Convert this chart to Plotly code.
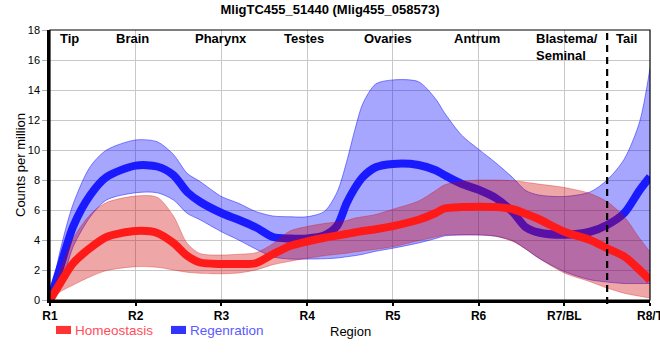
import plotly.graph_objects as go

# ---------------- data ----------------
regions = ["R1", "R2", "R3", "R4", "R5", "R6", "R7/BL", "R8/T"]
region_labels = ["Tip", "Brain", "Pharynx", "Testes", "Ovaries", "Antrum", "Blastema/<br>Seminal", "Tail"]

# positions along the body axis (in region units, R1 = 0 ... R8/T = 7)
pos = [0, 0.12, 0.27, 0.47, 0.66, 1.0, 1.25, 1.44, 1.6, 1.75, 2.0, 2.2, 2.4, 2.6, 2.8, 3.0,
       3.2, 3.35, 3.46, 3.55, 3.65, 3.8, 4.0, 4.3, 4.5, 4.6, 4.8, 5.0, 5.2, 5.4, 5.55, 5.7,
       6.0, 6.3, 6.5, 6.7, 6.88, 7.0]

homeo_mean = [0, 1.13, 2.45, 3.47, 4.2, 4.6, 4.47, 3.8, 2.95, 2.5, 2.4, 2.4, 2.45, 3.05, 3.6, 3.9,
              4.15, 4.3, 4.4, 4.5, 4.6, 4.72, 4.93, 5.35, 5.8, 6.1, 6.2, 6.22, 6.2, 6.05, 5.75, 5.4,
              4.55, 4.0, 3.45, 2.9, 2.0, 1.33]
homeo_upper = [0, 2.0, 4.1, 5.7, 6.5, 6.93, 6.85, 5.6, 3.78, 3.1, 3.0, 3.05, 3.15, 3.75, 4.6, 4.9,
               5.1, 5.2, 5.3, 5.45, 5.55, 5.7, 6.05, 6.6, 7.3, 7.67, 7.9, 8.0, 8.0, 7.95, 7.85, 7.73,
               7.5, 7.1, 6.55, 5.55, 4.1, 3.22]
homeo_lower = [0, 0.55, 1.0, 1.55, 1.96, 2.22, 2.18, 2.0, 1.85, 1.78, 1.75, 1.8, 2.0, 2.35, 2.58, 2.78,
               2.95, 3.05, 3.12, 3.2, 3.27, 3.38, 3.55, 3.95, 4.2, 4.33, 4.35, 4.35, 4.25, 3.9, 3.4, 2.8,
               1.8, 1.22, 0.8, 0.45, 0.25, 0.13]

regen_mean = [0, 2.2, 4.9, 7.0, 8.2, 8.96, 8.9, 8.33, 7.2, 6.55, 5.8, 5.35, 4.85, 4.2, 4.1, 4.1,
              4.3, 4.95, 6.45, 7.4, 8.2, 8.85, 9.07, 9.0, 8.65, 8.33, 7.75, 7.35, 6.8, 5.85, 4.85, 4.5,
              4.35, 4.55, 5.0, 5.8, 7.33, 8.22]
regen_upper = [0, 3.33, 6.4, 8.9, 10.0, 10.67, 10.55, 9.7, 8.45, 7.9, 6.9, 6.45, 5.9, 5.6, 5.55, 5.55,
               5.9, 7.2, 9.2, 11.2, 13.1, 14.4, 14.67, 14.55, 13.4, 12.5, 11.0, 10.05, 9.15, 8.15, 7.3, 7.0,
               6.9, 7.2, 8.0, 9.4, 11.9, 15.45]
regen_lower = [0, 0.9, 3.55, 5.55, 6.67, 7.15, 7.15, 6.67, 5.78, 5.35, 4.55, 4.0, 3.4, 2.88, 2.73, 2.73,
               2.75, 2.8, 2.88, 2.95, 3.05, 3.25, 3.45, 3.8, 4.1, 4.27, 4.33, 4.33, 4.25, 3.95, 3.4, 2.8,
               1.9, 1.35, 1.2, 1.1, 1.1, 1.1]

series_names = ["Homeostasis", "Regenration"]
tail_boundary = 6.5  # between R7/BL and R8/T

# ---------------- styles ----------------
FONT = "Liberation Sans, Arial, sans-serif"
BLUE_LINE = "#1a1aff"
RED_LINE = "#ff1a1a"
BLUE_FILL = "rgba(0,0,255,0.35)"
RED_FILL = "rgba(210,0,0,0.35)"

fig = go.Figure()

def band(lower, upper, fill, edge):
    fig.add_trace(go.Scatter(x=pos, y=lower, mode="lines", line=dict(color=edge, width=1, shape="spline", smoothing=0.8),
                             hoverinfo="skip", showlegend=False))
    fig.add_trace(go.Scatter(x=pos, y=upper, mode="lines", fill="tonexty", fillcolor=fill,
                             line=dict(color=edge, width=1, shape="spline", smoothing=0.8),
                             hoverinfo="skip", showlegend=False))

# blue band, blue line, red band, red line
band(regen_lower, regen_upper, BLUE_FILL, "rgba(0,0,255,0.45)")
fig.add_trace(go.Scatter(x=pos, y=regen_mean, mode="lines", name=series_names[1],
                         line=dict(color=BLUE_LINE, width=8, shape="spline", smoothing=0.8), showlegend=False))
band(homeo_lower, homeo_upper, RED_FILL, "rgba(210,0,0,0.3)")
fig.add_trace(go.Scatter(x=pos, y=homeo_mean, mode="lines", name=series_names[0],
                         line=dict(color=RED_LINE, width=8, shape="spline", smoothing=0.8), showlegend=False))

# region labels at top
label_x = [0.23, 0.96, 1.99, 2.96, 3.94, 4.98, 5.65, 6.73]
annotations = []
for name, lx in zip(region_labels, label_x):
    if "<br>" in name:
        annotations.append(dict(x=lx, y=1.003, xref="x", yref="paper", text="<b>" + name + "</b>",
                                showarrow=False, xanchor="left", yanchor="top", align="left",
                                font=dict(family=FONT, size=13, color="black")))
    else:
        annotations.append(dict(x=lx, y=0.967, xref="x", yref="paper", text="<b>" + name + "</b>",
                                showarrow=False, xanchor="center", yanchor="middle",
                                font=dict(family=FONT, size=13, color="black")))

# axis titles
annotations.append(dict(x=0.5, y=-0.117, xref="paper", yref="paper", text="Region", showarrow=False,
                        xanchor="center", yanchor="middle", borderpad=0,
                        font=dict(family=FONT, size=13, color="black")))
annotations.append(dict(x=-0.05, y=0.5, xref="paper", yref="paper", text="Counts per million", showarrow=False,
                        textangle=-90, xanchor="center", yanchor="middle",
                        font=dict(family=FONT, size=13, color="black")))

# manual legend
legend_items = [(series_names[0], "#ff3333", "#ff4d5a", 0.01), (series_names[1], "#3333ff", "#5a5aff", 0.2017)]
shapes = []
for nm, sw, tc, lx in legend_items:
    shapes.append(dict(type="rect", xref="paper", yref="paper", x0=lx, x1=lx + 0.025, y0=-0.126, y1=-0.096,
                       fillcolor=sw, line=dict(width=0)))
    annotations.append(dict(x=lx + 0.03, y=-0.112, xref="paper", yref="paper", text=nm, showarrow=False,
                            xanchor="left", yanchor="middle", borderpad=0,
                            font=dict(family=FONT, size=13.5, color=tc)))

# tail boundary dashed line
shapes.append(dict(type="line", xref="x", yref="paper", x0=tail_boundary, x1=tail_boundary, y0=-0.015, y1=1,
                   line=dict(color="black", width=2.2, dash="7px,5px")))
# frame
shapes.append(dict(type="rect", xref="paper", yref="paper", x0=0, x1=1, y0=0, y1=1,
                   line=dict(color="black", width=1.2), layer="above"))

fig.update_layout(
    width=660, height=360,
    margin=dict(l=50, r=10, t=30, b=60),
    paper_bgcolor="white", plot_bgcolor="white",
    title=dict(text="<b>MligTC455_51440 (Mlig455_058573)</b>", x=0.5, xanchor="center",
               y=0.975, yref="container", yanchor="middle",
               font=dict(family=FONT, size=13, color="black")),
    showlegend=False,
    annotations=annotations,
    shapes=shapes,
    xaxis=dict(range=[0, 7], tickvals=list(range(len(regions))), ticktext=["<b>" + r + "</b>" for r in regions],
               showgrid=True, gridcolor="#c8c8c8", gridwidth=1, zeroline=False,
               showline=True, linecolor="black", linewidth=2.5,
               ticks="outside", ticklen=3, tickcolor="black", tickwidth=1.5,
               ticklabeloverflow="allow",
               tickfont=dict(family=FONT, size=12, color="black"), automargin=False, fixedrange=True),
    yaxis=dict(range=[0, 18], dtick=2, showgrid=True, gridcolor="#c8c8c8", gridwidth=1, zeroline=False,
               showline=True, linecolor="black", linewidth=2.5,
               ticks="outside", ticklen=5, tickcolor="#b0b0b0", tickwidth=1,
               tickfont=dict(family=FONT, size=11, color="black"), automargin=False, fixedrange=True),
)

fig.write_html("out.html",
               post_script="document.body.style.margin='0';document.body.style.padding='0';"
                           "document.body.style.overflow='hidden';",
               config={"displayModeBar": False})
